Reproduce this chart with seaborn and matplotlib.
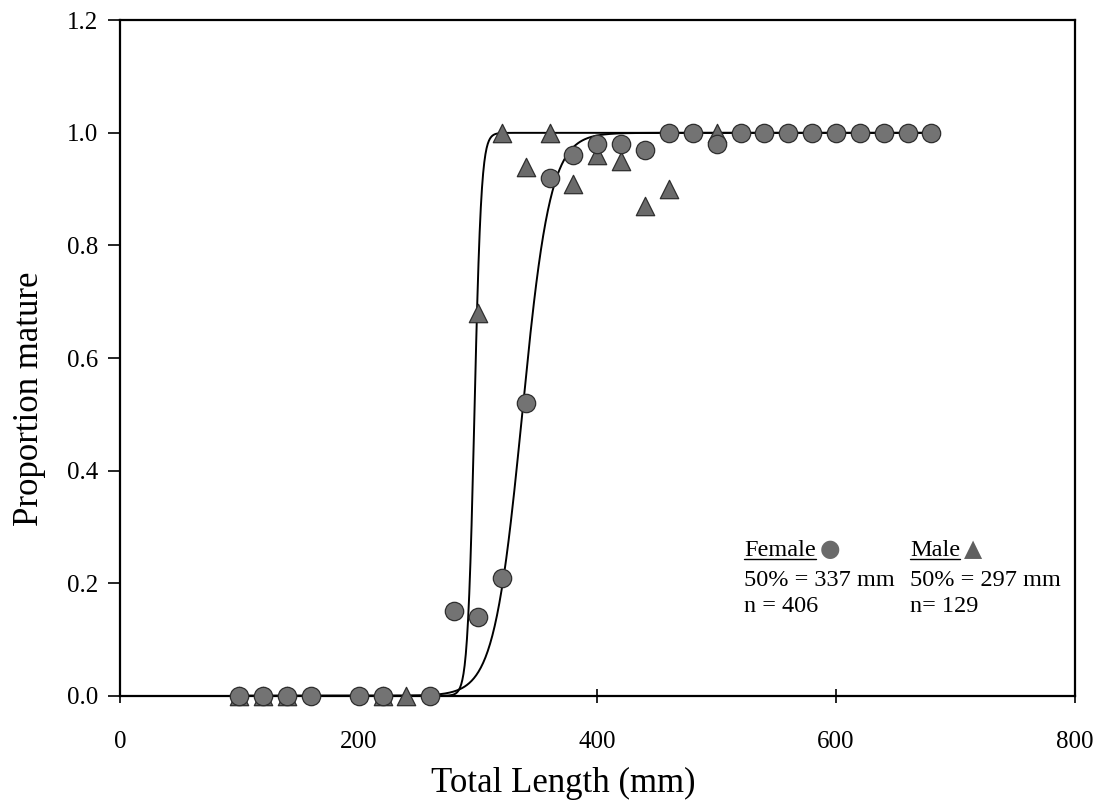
import numpy as np
import pandas as pd
import matplotlib
matplotlib.use("Agg")
import matplotlib.pyplot as plt
from matplotlib.lines import Line2D
import seaborn as sns

# Length classes (mm) and observed proportion mature
female_length = [100, 120, 140, 160, 200, 220, 260, 280, 300, 320, 340, 360, 380,
                 400, 420, 440, 460, 480, 500, 520, 540, 560, 580, 600, 620, 640,
                 660, 680]
female_prop = [0.0, 0.0, 0.0, 0.0, 0.0, 0.0, 0.0, 0.15, 0.14, 0.21, 0.52, 0.92, 0.96,
               0.98, 0.98, 0.97, 1.0, 1.0, 0.98, 1.0, 1.0, 1.0, 1.0, 1.0, 1.0, 1.0,
               1.0, 1.0]

male_length = [100, 120, 140, 220, 240, 300, 320, 340, 360, 380, 400, 420, 440, 460, 500]
male_prop = [0.0, 0.0, 0.0, 0.0, 0.0, 0.68, 1.0, 0.94, 1.0, 0.91, 0.96, 0.95, 0.87,
             0.90, 1.0]

# Fitted logistic maturity ogives: length at 50% maturity and slope
female_l50, female_slope = 337, 0.085
male_l50, male_slope = 297, 0.35
female_n, male_n = 406, 129

x_ticks = [0, 200, 400, 600, 800]
y_ticks = [0.0, 0.2, 0.4, 0.6, 0.8, 1.0, 1.2]

sns.set_theme(style="ticks")
plt.rcParams["font.family"] = ["Liberation Serif", "DejaVu Sans"]

fig = plt.figure(figsize=(11.14, 8.10), dpi=100)
ax = fig.add_axes([0.1077, 0.141, 0.857, 0.834])

fit_len = np.linspace(100, 680, 600)
fits = pd.DataFrame({
    "length": np.concatenate([fit_len, fit_len]),
    "prop": np.concatenate([
        1 / (1 + np.exp(-female_slope * (fit_len - female_l50))),
        1 / (1 + np.exp(-male_slope * (fit_len - male_l50))),
    ]),
    "sex": ["Female"] * len(fit_len) + ["Male"] * len(fit_len),
})
sns.lineplot(data=fits, x="length", y="prop", units="sex", estimator=None,
             color="black", lw=1.4, ax=ax, zorder=2)

sns.scatterplot(x=male_length, y=male_prop, marker="^", s=175, color="#6a6a6a",
                edgecolor="#2e2e2e", linewidth=0.9, ax=ax, zorder=3, clip_on=False)
sns.scatterplot(x=female_length, y=female_prop, marker="o", s=175, color="#737373",
                edgecolor="#2e2e2e", linewidth=0.9, ax=ax, zorder=4, clip_on=False)

ax.set_xlim(0, 800)
ax.set_ylim(0, 1.2)
ax.set_xticks(x_ticks)
ax.set_yticks(y_ticks)
ax.set_xticklabels([str(v) for v in x_ticks])
ax.set_yticklabels([f"{v:.1f}" for v in y_ticks])
ax.tick_params(axis="x", direction="inout", length=10, width=1.2, pad=20,
               labelsize=18, colors="black")
ax.tick_params(axis="y", direction="out", length=9, width=1.2, pad=7,
               labelsize=18, colors="black")
for side in ["left", "right", "top", "bottom"]:
    ax.spines[side].set_visible(True)
    ax.spines[side].set_linewidth(1.6)
    ax.spines[side].set_color("black")

ax.set_xlabel("Total Length (mm)", fontsize=25, color="black")
ax.set_ylabel("Proportion mature", fontsize=25, color="black")
ax.xaxis.set_label_coords(0.464, -0.105)
ax.yaxis.set_label_coords(-0.078, 0.44)

# Annotation block with maturity summaries
txt_kw = dict(fontsize=17.5, color="black", va="baseline")
female_head = ax.text(523, 0.248, "Female", **txt_kw)
ax.text(523, 0.195, f"50% = {female_l50} mm", **txt_kw)
ax.text(523, 0.148, f"n = {female_n}", **txt_kw)

male_head = ax.text(662, 0.248, "Male", **txt_kw)
ax.text(662, 0.195, f"50% = {male_l50} mm", **txt_kw)
ax.text(662, 0.148, f"n= {male_n}", **txt_kw)

# Underline the headings and put the series symbol after each
fig.canvas.draw()
renderer = fig.canvas.get_renderer()
for head, sym, col in [(female_head, "●", "#6a6a6a"), (male_head, "▲", "#5f5f5f")]:
    bb = head.get_window_extent(renderer)
    base_y = ax.transData.transform(head.get_position())[1]
    fig.add_artist(Line2D([bb.x0, bb.x1], [base_y - 3, base_y - 3],
                          transform=None, color="black", lw=1.0))
    inv = ax.transData.inverted()
    sx, sy = inv.transform((bb.x1 + 4, base_y))
    ax.text(sx, sy, sym, fontsize=17, color=col, va="baseline",
            family=["DejaVu Sans"])

fig.savefig("out.png", dpi=100, facecolor="white")
